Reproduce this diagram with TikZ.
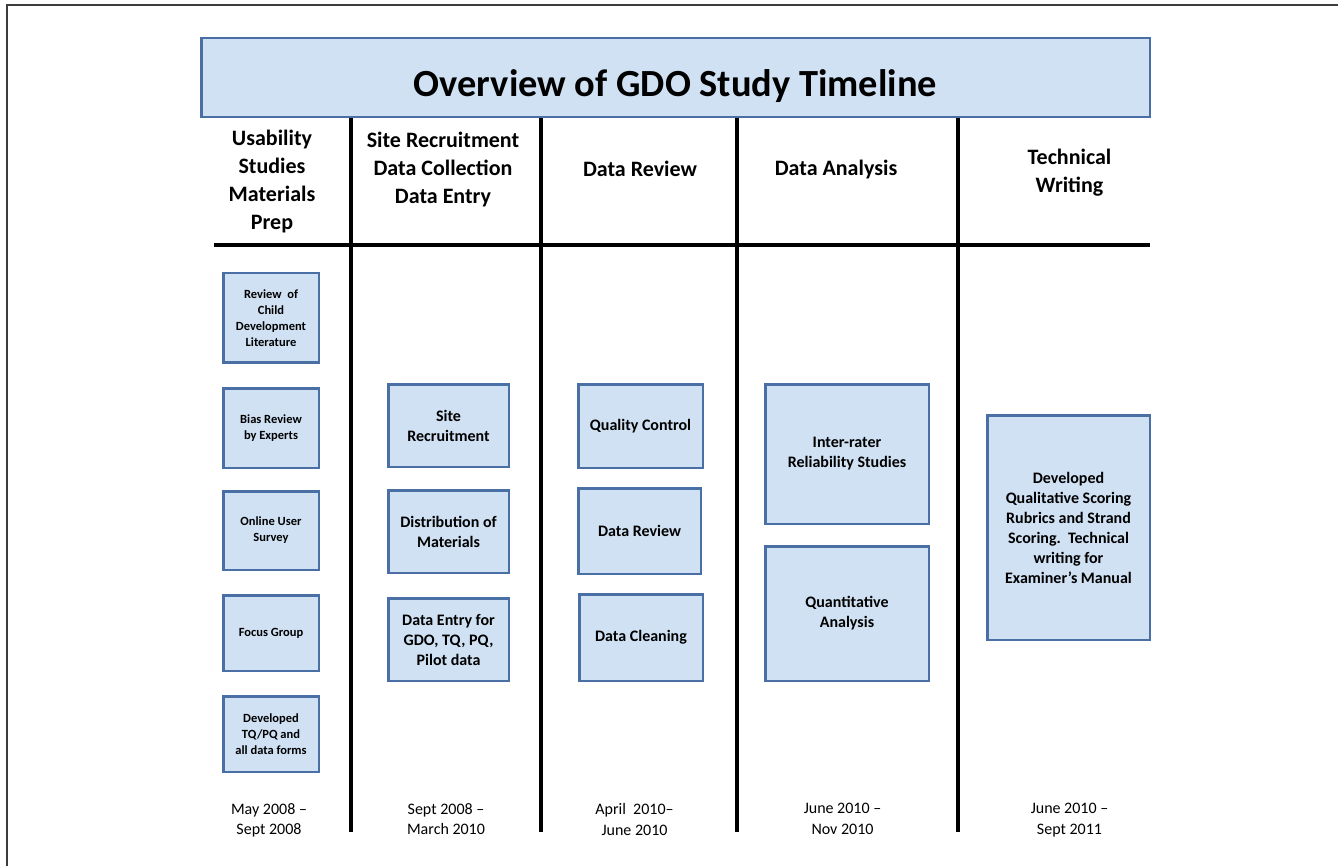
\documentclass[tikz,border=0pt]{standalone}
\usepackage{fontspec}
\setmainfont{Carlito}
\usepackage{xcolor}
\usepackage{tikz}
\definecolor{boxfill}{RGB}{208,225,243}
\definecolor{boxline}{RGB}{74,111,165}
\definecolor{framegray}{RGB}{60,60,60}
\tikzset{
  taskbox/.style={draw=boxline, fill=boxfill, line width=2.5pt, align=center, inner sep=0pt,
    font=\bfseries\fontsize{16}{20}\selectfont},
  smalltask/.style={taskbox, font=\bfseries\fontsize{12.5}{16}\selectfont},
  colhead/.style={align=center, font=\bfseries\fontsize{22}{28}\selectfont},
  datelabel/.style={align=center, anchor=north, inner sep=0pt, font=\fontsize{16}{20.7}\selectfont},
  divider/.style={line width=4pt}
}

\begin{document}
\begin{tikzpicture}[x=1pt, y=-1pt]
                \useasboundingbox (0,0) rectangle (1338,866);
                % frame
                \draw[framegray, line width=1.3pt] (7,866) -- (7,5) -- (1338,5);
                % column dividers
                \draw[divider] (214,245) -- (1150,245);
                \foreach \xd in {351,541,737,958}
                    \draw[divider] (\xd,118) -- (\xd,832);
                % title
                \node[taskbox, minimum width=948.5pt, minimum height=79pt, text height=39pt, text depth=0pt,
                    font=\bfseries\fontsize{38.4}{46}\selectfont] (title) at (675.5,77.5) {Overview of GDO Study Timeline};
                % column heads
                \node[colhead] (headusab) at (272,181.5) {Usability\\Studies\\Materials\\Prep};
                \node[colhead] (headsite) at (443,170) {Site Recruitment\\Data Collection\\Data Entry};
                \node[colhead] (headreview) at (640,169) {Data Review};
                \node[colhead] (headanalysis) at (836,170) {Data Analysis};
                \node[colhead] (headwriting) at (1069.5,172.5) {Technical\\Writing};
                % Usability Studies Materials Prep
                \node[smalltask, minimum width=95.5pt, minimum height=89.5pt] (litreview) at (271,318) {Review\ \ of\\Child\\Development\\Literature};
                \node[smalltask, minimum width=95.5pt, minimum height=79.5pt] (bias) at (271,428) {Bias Review\\by Experts};
                \node[smalltask, minimum width=95.5pt, minimum height=78.5pt] (survey) at (271,530.5) {Online User\\Survey};
                \node[smalltask, minimum width=95.5pt, minimum height=75.5pt] (focus) at (271,633) {Focus Group};
                \node[smalltask, minimum width=95.5pt, minimum height=75.5pt] (forms) at (271,734) {Developed\\TQ/PQ and\\all data forms};
                % Site Recruitment Data Collection Data Entry
                \node[taskbox, minimum width=120.5pt, minimum height=82.5pt] (siterec) at (448.5,425.5) {Site\\Recruitment};
                \node[taskbox, minimum width=120.5pt, minimum height=82.5pt] (distrib) at (448.5,531.5) {Distribution of\\Materials};
                \node[taskbox, minimum width=120.5pt, minimum height=82.5pt] (entry) at (448.5,639.5) {Data Entry for\\GDO, TQ, PQ,\\Pilot data};
                % Data Review
                \node[taskbox, minimum width=124.5pt, minimum height=83.5pt] (quality) at (640.5,426) {Quality Control};
                \node[taskbox, minimum width=122.5pt, minimum height=85.5pt] (datareview) at (639.5,531) {Data Review};
                \node[taskbox, minimum width=123.5pt, minimum height=86.5pt] (cleaning) at (641,637.5) {Data Cleaning};
                % Data Analysis
                \node[taskbox, minimum width=163.5pt, minimum height=139.5pt] (interrater) at (847,454) {Inter-rater\\Reliability Studies};
                \node[taskbox, minimum width=163.5pt, minimum height=134.5pt] (quant) at (847,613.5) {Quantitative\\Analysis};
                % Technical Writing
                \node[taskbox, minimum width=162.5pt, minimum height=224.5pt] (scoring) at (1068.5,527.5) {Developed\\Qualitative Scoring\\Rubrics and Strand\\Scoring.\ \ Technical\\writing for\\Examiner’s Manual};
                % dates
                \node[datelabel] (dateusab) at (269,803) {May 2008 –\\Sept 2008};
                \node[datelabel] (datesite) at (446,803) {Sept 2008 –\\March 2010};
                \node[datelabel] (datereview) at (634.5,803) {April\ \ 2010–\\June 2010};
                \node[datelabel] (dateanalysis) at (842.5,803) {June 2010 –\\Nov 2010};
                \node[datelabel] (datewriting) at (1069.5,803) {June 2010 –\\Sept 2011};
            \end{tikzpicture}
\end{document}
